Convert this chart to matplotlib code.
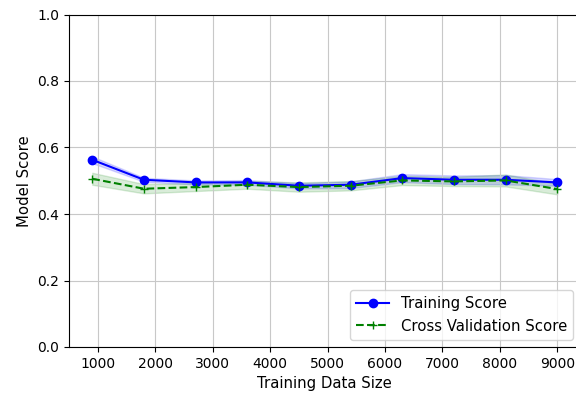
import numpy as np
import matplotlib.pyplot as plt

train_sizes = [900, 1800, 2700, 3600, 4500, 5400, 6300, 7200, 8100, 9000]
train_mean = [0.563, 0.503, 0.495, 0.495, 0.485, 0.488, 0.508, 0.503, 0.503, 0.495]
train_std = [0.010, 0.006, 0.006, 0.007, 0.008, 0.010, 0.012, 0.013, 0.014, 0.010]
cv_mean = [0.506, 0.476, 0.481, 0.488, 0.481, 0.485, 0.501, 0.498, 0.501, 0.475]
cv_std = [0.018, 0.014, 0.012, 0.012, 0.014, 0.014, 0.014, 0.014, 0.018, 0.016]


def main():
    fig = plt.figure(figsize=(5.76, 3.98), dpi=100)
    ax = fig.add_axes([69 / 576, 51 / 398, 511.5 / 576, 332.5 / 398])

    tm = np.array(train_mean)
    ts = np.array(train_std)
    cm = np.array(cv_mean)
    cs = np.array(cv_std)

    ax.plot(train_sizes, tm, color="blue", marker="o", markersize=6,
            label="Training Score")
    ax.fill_between(train_sizes, tm + ts, tm - ts, alpha=0.15, color="blue")
    ax.plot(train_sizes, cm, color="green", linestyle="--", marker="+",
            markersize=6, label="Cross Validation Score")
    ax.fill_between(train_sizes, cm + cs, cm - cs, alpha=0.15, color="green")

    ax.set_xlabel("Training Data Size", fontsize=10.7)
    ax.set_ylabel("Model Score", fontsize=10.7)
    ax.set_ylim(0.0, 1.0)
    ax.set_xticks(range(1000, 10000, 1000))
    ax.grid(True, color="#c8c8c8")
    ax.legend(loc="lower right", fontsize=10.7, handlelength=2.2)

    fig.savefig("out.png", dpi=100)


if __name__ == "__main__":
    main()
